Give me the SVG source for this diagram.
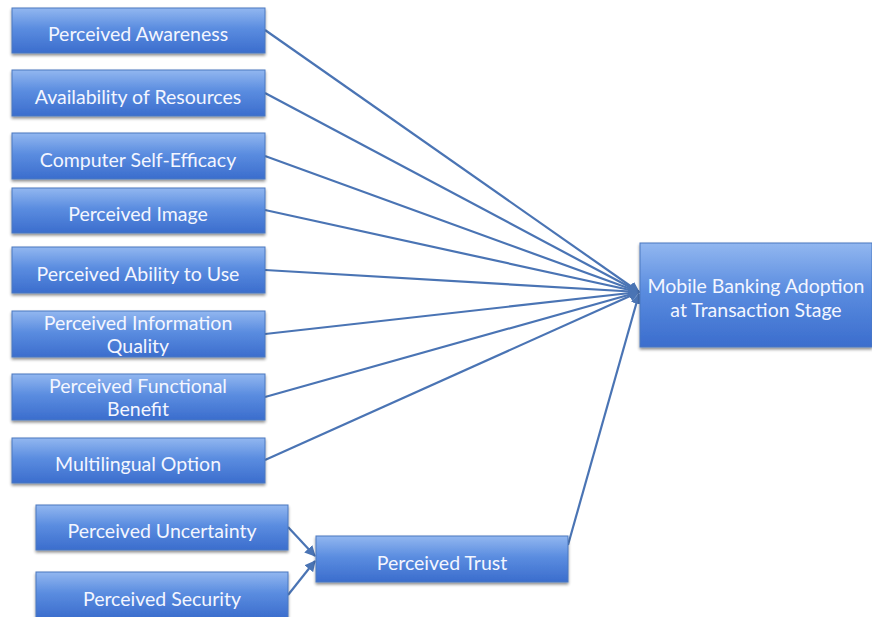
<svg xmlns="http://www.w3.org/2000/svg" width="872" height="617" viewBox="0 0 872 617">
<defs>
<linearGradient id="g" x1="0" y1="0" x2="0" y2="1">
<stop offset="0" stop-color="#92b7f0"/>
<stop offset="0.45" stop-color="#5b8de0"/>
<stop offset="1" stop-color="#3b6dcd"/>
</linearGradient>
<filter id="sh" x="-5%" y="-10%" width="110%" height="140%">
<feGaussianBlur in="SourceAlpha" stdDeviation="1.5"/>
<feOffset dy="2" result="b"/>
<feComponentTransfer><feFuncA type="linear" slope="0.45"/></feComponentTransfer>
<feMerge><feMergeNode/><feMergeNode in="SourceGraphic"/></feMerge>
</filter>
<marker id="ah" viewBox="0 0 10 10" refX="9" refY="5" markerWidth="5" markerHeight="5" orient="auto" markerUnits="strokeWidth">
<path d="M0,0 L10,5 L0,10 Z" fill="#4a74b4"/>
</marker>
</defs>
<style>
.box{fill:url(#g);stroke:#4a78c0;stroke-width:1;filter:url(#sh)}
.t{font-family:Lato,"Open Sans","Liberation Sans",sans-serif;font-size:19.5px;fill:#f3f6ff;text-anchor:middle}
.c{stroke:#4a74b4;stroke-width:2.2;fill:none;marker-end:url(#ah)}
</style>
<rect width="872" height="617" fill="#ffffff"/>
<g id="connectors">
<line class="c" x1="265" y1="30" x2="639" y2="292"/>
<line class="c" x1="265" y1="93" x2="639" y2="292"/>
<line class="c" x1="265" y1="156" x2="639" y2="292"/>
<line class="c" x1="265" y1="210" x2="639" y2="292"/>
<line class="c" x1="265" y1="270" x2="639" y2="292"/>
<line class="c" x1="265" y1="334" x2="639" y2="292"/>
<line class="c" x1="265" y1="397" x2="639" y2="292"/>
<line class="c" x1="265" y1="460" x2="639" y2="292"/>
<line class="c" x1="568" y1="545" x2="639" y2="294"/>
<line class="c" x1="288" y1="527" x2="315" y2="556"/>
<line class="c" x1="288" y1="595" x2="315" y2="561"/>
</g>
<g id="n1"><rect class="box" x="12" y="8" width="253" height="45"/><text class="t" x="138" y="41">Perceived Awareness</text></g>
<g id="n2"><rect class="box" x="12" y="70" width="253" height="46"/><text class="t" x="138" y="104">Availability of Resources</text></g>
<g id="n3"><rect class="box" x="12" y="133" width="253" height="46"/><text class="t" x="138" y="167">Computer Self-Efficacy</text></g>
<g id="n4"><rect class="box" x="12" y="188" width="253" height="45"/><text class="t" x="138" y="221">Perceived Image</text></g>
<g id="n5"><rect class="box" x="12" y="247" width="253" height="46"/><text class="t" x="138" y="281">Perceived Ability to Use</text></g>
<g id="n6"><rect class="box" x="12" y="311" width="253" height="46"/><text class="t" x="138" y="330">Perceived Information</text><text class="t" x="138" y="353">Quality</text></g>
<g id="n7"><rect class="box" x="12" y="374" width="253" height="46"/><text class="t" x="138" y="393">Perceived Functional</text><text class="t" x="138" y="416">Benefit</text></g>
<g id="n8"><rect class="box" x="12" y="438" width="253" height="45"/><text class="t" x="138" y="471">Multilingual Option</text></g>
<g id="n9"><rect class="box" x="36" y="505" width="252" height="45"/><text class="t" x="162" y="538">Perceived Uncertainty</text></g>
<g id="n10"><rect class="box" x="36" y="572" width="252" height="46"/><text class="t" x="162" y="606">Perceived Security</text></g>
<g id="n11"><rect class="box" x="316" y="536" width="252" height="46"/><text class="t" x="442" y="570">Perceived Trust</text></g>
<g id="n12"><rect class="box" x="640" y="243" width="232" height="104"/><text class="t" x="756" y="293">Mobile Banking Adoption</text><text class="t" x="756" y="317">at Transaction Stage</text></g>
</svg>
